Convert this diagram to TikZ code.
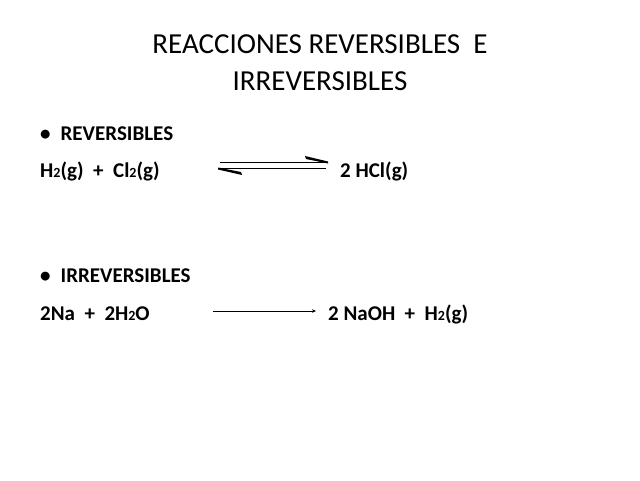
\documentclass[tikz,border=0pt]{standalone}
\usepackage{fontspec}
\usetikzlibrary{arrows.meta}
\setmainfont{Carlito}
\newcommand{\subtwo}{{\fontsize{14}{14}\selectfont 2}}
\begin{document}
\begin{tikzpicture}[x=1pt,y=-1pt,
  title/.style={anchor=base,inner sep=0,font=\fontsize{29}{34}\selectfont},
  body/.style={anchor=base west,inner sep=0,font=\fontsize{21}{25}\selectfont\bfseries}]
\useasboundingbox[fill=white] (0,0) rectangle (640,480);
\node[title] (t1) at (320,53) {REACCIONES REVERSIBLES\ \ E};
\node[title] (t2) at (320,90) {IRREVERSIBLES};
\node[body] (b1) at (40,140) {•\hspace{10pt}REVERSIBLES};
\node[body] (r1) at (40,177) {H\subtwo(g)\ \ +\ \ Cl\subtwo(g)};
\node[body] (p1) at (340,177) {2 HCl(g)};
\node[body] (b2) at (40,282) {•\hspace{10pt}IRREVERSIBLES};
\node[body] (r2) at (40,320) {2Na\ \ +\ \ 2H\subtwo O};
\node[body] (p2) at (328,320) {2 NaOH\ \ +\ \ H\subtwo(g)};
\draw[line width=1.3pt] (220,162.5) -- (328,162.5);
\fill (305,156) -- (328,161.5) -- (328,163.5) -- (306,159) -- cycle;
\draw[line width=1.3pt] (218,168.5) -- (326,168.5);
\fill (242,175) -- (218,169.5) -- (218,167.5) -- (241,172) -- cycle;
\draw[line width=0.6pt,-{Stealth[length=4pt,width=3.5pt]}] (213,311) -- (316,311);
\end{tikzpicture}
\end{document}
